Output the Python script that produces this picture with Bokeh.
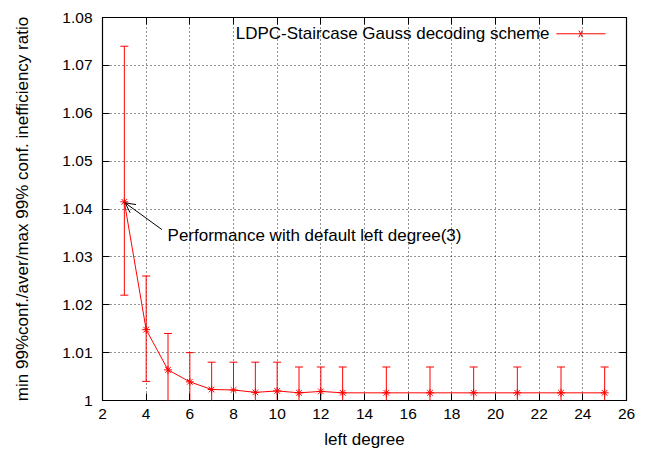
from bokeh.plotting import figure
from bokeh.models import Range1d, FixedTicker, LinearAxis, Label, Arrow, OpenHead, ColumnDataSource
from bokeh.embed import file_html
from bokeh.resources import INLINE

# ---- data ----
degrees = [3, 4, 5, 6, 7, 8, 9, 10, 11, 12, 13, 15, 17, 19, 21, 23, 25]
ratio = [1.0415, 1.0148, 1.0064, 1.0039, 1.0023, 1.0022, 1.0017, 1.0020, 1.0016,
         1.0019, 1.0016, 1.0016, 1.0016, 1.0016, 1.0016, 1.0016, 1.0016]
upper = [1.074, 1.026, 1.014, 1.010, 1.008, 1.008, 1.008, 1.008, 1.007,
         1.007, 1.007, 1.007, 1.007, 1.007, 1.007, 1.007, 1.007]
lower = [1.022, 1.004, 0.9986, 0.9978, 0.9966, 0.9964, 0.9954, 0.9960, 0.9962,
         0.9968, 0.9962, 0.9962, 0.9962, 0.9962, 0.9962, 0.9962, 0.9962]
x_ticks = [2, 4, 6, 8, 10, 12, 14, 16, 18, 20, 22, 24, 26]
y_ticks = [1.0, 1.01, 1.02, 1.03, 1.04, 1.05, 1.06, 1.07, 1.08]
y_tick_labels = ["1", "1.01", "1.02", "1.03", "1.04", "1.05", "1.06", "1.07", "1.08"]
series_name = "LDPC-Staircase Gauss decoding scheme"
note_text = "Performance with default left degree(3)"
x_title = "left degree"
y_title = "min 99%conf./aver/max 99% conf. inefficiency ratio"

FONT = "Liberation Sans"
RED = "#ff0000"
TICK_FS = "15.5px"
FS = "17px"

p = figure(width=647, height=451, x_range=Range1d(2, 26), y_range=Range1d(1.0, 1.08),
           output_backend="svg", toolbar_location=None,
           min_border_left=102, min_border_right=21, min_border_top=17, min_border_bottom=51)
p.background_fill_color = "white"
p.border_fill_color = "white"
p.outline_line_color = "black"
p.outline_line_width = 1.2

for ax in (p.xaxis[0], p.yaxis[0]):
    ax.axis_line_color = None
    ax.major_tick_in = 7
    ax.major_tick_out = 0
    ax.minor_tick_line_color = None
    ax.major_tick_line_color = "black"
    ax.major_label_text_font = FONT
    ax.major_label_text_font_size = TICK_FS
    ax.major_label_text_color = "black"
    ax.axis_label_text_font = FONT
    ax.axis_label_text_font_size = FS
    ax.axis_label_text_font_style = "normal"
    ax.axis_label_text_color = "black"

p.xaxis[0].ticker = FixedTicker(ticks=x_ticks)
p.yaxis[0].ticker = FixedTicker(ticks=y_ticks)
p.yaxis[0].major_label_overrides = {t: l for t, l in zip(y_ticks, y_tick_labels)}
p.xaxis[0].axis_label = x_title
p.yaxis[0].axis_label = y_title
p.xaxis[0].major_label_standoff = 8
p.yaxis[0].major_label_standoff = 10
p.xaxis[0].axis_label_standoff = 8
p.yaxis[0].axis_label_standoff = 27

# mirrored ticks on top and right (labels not drawn)
for loc, ticks in (("above", x_ticks), ("right", y_ticks)):
    ax = LinearAxis(ticker=FixedTicker(ticks=ticks))
    ax.axis_line_color = None
    ax.major_tick_in = 7
    ax.major_tick_out = 0
    ax.minor_tick_line_color = None
    ax.major_label_text_font_size = "5px"
    ax.major_label_text_color = None
    ax.major_label_standoff = 0
    p.add_layout(ax, loc)

p.xgrid.ticker = FixedTicker(ticks=x_ticks)
p.ygrid.ticker = FixedTicker(ticks=y_ticks)
for g in (p.xgrid[0], p.ygrid[0]):
    g.grid_line_color = "black"
    g.grid_line_dash = "1 3"
    g.grid_line_width = 1
    g.grid_line_alpha = 0.85

src = ColumnDataSource(dict(x=degrees, y=ratio, up=upper, lo=lower))

# error bars
p.segment(x0="x", y0="lo", x1="x", y1="up", source=src, line_color=RED, line_width=1)
p.scatter(x="x", y="up", source=src, marker="dash", size=8, line_color=RED, line_width=1)
p.scatter(x="x", y="lo", source=src, marker="dash", size=8, line_color=RED, line_width=1)

# series line and markers
p.line(x="x", y="y", source=src, line_color=RED, line_width=1)
p.scatter(x="x", y="y", source=src, marker="x", size=8, line_color=RED, line_width=1)
p.scatter(x="x", y="y", source=src, marker="cross", size=8, line_color=RED, line_width=1)

# legend (text on the left, key on the right, gnuplot style)
leg_y = 1.0766
p.add_layout(Label(x=22.47, y=leg_y, text=series_name, text_align="right", text_baseline="middle",
                   text_font=FONT, text_font_size=FS, text_color="black"))
p.add_layout(Arrow(x_start=22.79, y_start=leg_y, x_end=25.04, y_end=leg_y, start=None, end=None,
                   line_color=RED, line_width=1))
p.add_layout(Arrow(x_start=23.82, y_start=leg_y - 0.0007, x_end=23.98, y_end=leg_y + 0.0007,
                   start=None, end=None, line_color=RED, line_width=1))
p.add_layout(Arrow(x_start=23.82, y_start=leg_y + 0.0007, x_end=23.98, y_end=leg_y - 0.0007,
                   start=None, end=None, line_color=RED, line_width=1))

# annotation
p.add_layout(Arrow(x_start=4.72, y_start=1.0357, x_end=degrees[0] + 0.03, y_end=ratio[0] - 0.0002,
                   end=OpenHead(size=10, line_color="black", line_width=1),
                   line_color="black", line_width=1))
p.add_layout(Label(x=4.98, y=1.0345, text=note_text, text_baseline="middle",
                   text_font=FONT, text_font_size=FS, text_color="black"))

open("out.html", "w").write(file_html(p, INLINE))
